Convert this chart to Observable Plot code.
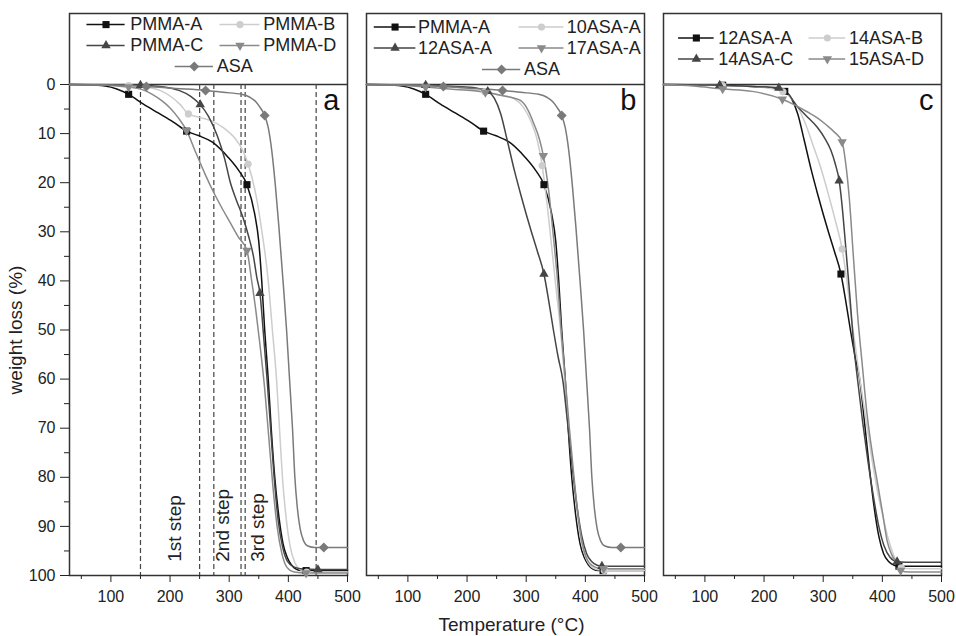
<!DOCTYPE html>
<html><head><meta charset="utf-8">
<script src="https://cdn.jsdelivr.net/npm/d3@7"></script>
<script src="https://cdn.jsdelivr.net/npm/@observablehq/plot@0.6"></script>
<style>html,body{margin:0;padding:0;background:#fff;}</style>
</head><body><div id="chart"></div>
<script>
// ---------- DATA (temperature °C, weight loss %) ----------
const panels = ["a", "b", "c"];
const legendA = ["PMMA-A", "PMMA-B", "PMMA-C", "PMMA-D", "ASA"];
const legendB = ["PMMA-A", "10ASA-A", "12ASA-A", "17ASA-A", "ASA"];
const legendC = ["12ASA-A", "14ASA-B", "14ASA-C", "15ASA-D"];

const PMMA_A = [[30,0],[60,0.05],[90,0.3],[110,0.9],[130,2],[155,4],[180,5.8],[205,7.6],[228,9.5],[248,10.4],[271,11.7],[298,14.8],[316,17.5],[330,20.4],[343,26.3],[350,32],[355,40],[360,50],[366,60],[371,70],[377,80],[384,88],[391,93.5],[398,96.3],[405,97.8],[413,98.7],[422,99],[430,99],[500,99]];
const PMMA_A_MARKS = [130, 228, 330, 430];
const PMMA_B = [[30,0],[90,0.05],[130,0.2],[163,0.6],[185,1.3],[203,2.6],[218,4.2],[231,6],[250,6.7],[270,7.4],[290,8.8],[310,11],[322,13.2],[332,16.2],[346,23],[355,29.7],[366,40],[373,50],[380,60],[385,70],[390,80],[396,88],[403,94],[411,97.4],[420,98.8],[431,99.3],[500,99.3]];
const PMMA_B_MARKS = [130, 231, 332, 431];
const PMMA_C = [[30,0],[100,0.05],[150,0.15],[190,0.5],[215,1.2],[235,2.4],[251,4.1],[265,6.5],[280,10.5],[292,15],[302,20],[312,23.5],[323,27],[333,31],[341,35],[347,39.5],[352,42.5],[358,51],[364,60],[370,70],[376,80],[383,89],[390,94],[398,97],[410,98.3],[425,98.7],[450,98.8],[500,98.8]];
const PMMA_C_MARKS = [150, 251, 352, 450];
const PMMA_D = [[30,0],[80,0.1],[110,0.3],[130,0.5],[152,1],[170,2],[186,3.3],[200,4.8],[214,6.8],[228,9.4],[244,14],[259,18.2],[273,21.8],[287,25],[301,28],[315,31],[330,33.8],[338,40],[345,46],[352,53],[360,62],[367,72],[374,82],[381,90],[389,95.5],[398,98.4],[410,99.3],[430,99.5],[500,99.5]];
const PMMA_D_MARKS = [130, 228, 330, 430];
const ASA = [[30,0],[100,0.1],[160,0.4],[210,0.8],[260,1.2],[290,1.6],[321,2],[335,2.6],[345,3.5],[353,4.8],[360,6.3],[366,8.8],[372,13.5],[378,20.5],[384,29],[391,40],[397,50],[402,60],[407,70],[411,80],[415,86],[420,90.5],[426,93],[433,94],[445,94.3],[460,94.3],[500,94.3]];
const ASA_MARKS = [160, 260, 360, 460];
const ASA10_A = [[30,0],[100,0.1],[130,0.2],[180,0.6],[230,1.5],[260,2.2],[280,2.9],[295,4.6],[308,7.5],[318,11],[327,16.5],[335,24],[343,33],[350,41],[358,50],[365,60],[372,70],[379,79],[386,87],[393,93],[401,96.5],[410,98.2],[420,98.8],[432,99],[500,99]];
const ASA10_A_MARKS = [130, 230, 327, 432];
const ASA12_A = [[30,0],[100,0.1],[130,0.15],[180,0.4],[215,0.7],[235,1.4],[246,2.8],[257,6],[268,11.4],[280,17.5],[291,22.5],[308,29.7],[319,34],[330,38.6],[338,44],[346,50],[354,55.5],[362,60.3],[370,69],[378,78],[386,86],[394,92],[402,95.5],[411,97.2],[420,97.9],[428,98.1],[500,98.1]];
const ASA12_A_MARKS = [130, 235, 330, 428];
const ASA17_A = [[30,0],[80,0.1],[130,0.5],[180,1],[231,1.6],[260,2.3],[280,2.8],[291,3.3],[303,5.2],[313,8],[322,11],[329,14.5],[338,21.6],[346,31],[353,40],[359,50],[366,60],[373,70],[380,79],[387,87],[394,93],[402,96.5],[412,98],[422,98.5],[431,98.6],[500,98.6]];
const ASA17_A_MARKS = [130, 231, 329, 431];
const ASA14_B = [[30,0],[100,0.1],[130,0.2],[180,0.4],[232,1.5],[246,2.8],[256,4.4],[270,8],[284,12.8],[296,17],[307,21.6],[320,27.5],[332,33.5],[340,40],[347,47],[354,53],[362,60],[372,68],[382,76],[392,83],[402,88.5],[410,92.5],[418,95.5],[426,97.6],[432,98.4],[445,98.6],[500,98.6]];
const ASA14_B_MARKS = [130, 232, 332, 432];
const ASA14_C = [[30,0],[100,0.1],[125,0.15],[180,0.4],[225,0.7],[240,1.8],[255,4.3],[270,6.2],[290,8.7],[303,11],[313,13.4],[320,16],[327,19.6],[333,26],[338,33],[345,43],[352,53.5],[359,61],[367,69],[376,77],[385,84],[394,90],[403,94],[413,96.3],[425,97.2],[440,97.3],[500,97.3]];
const ASA14_C_MARKS = [125, 225, 327, 425];
const ASA15_D = [[30,0],[80,0.3],[130,0.9],[180,1.4],[231,3],[254,4.3],[272,5.5],[290,6.8],[305,8.2],[318,9.6],[332,11.7],[338,16],[344,23],[351,35],[358,46.7],[366,57],[374,67],[383,75],[391,80.6],[400,87],[408,92.9],[416,95.8],[425,97.6],[431,99],[445,99.3],[500,99.3]];
const ASA15_D_MARKS = [130, 231, 332, 431];

const stepLines = [150, 250, 274, 320, 327, 447];
const stepLabels = ["1st step", "2nd step", "3rd step"];
const stepLabelT = [208, 290, 349];

const xMajor = [100, 200, 300, 400, 500];
const xMinor = [50, 150, 250, 350, 450];
const yMajor = [0, 10, 20, 30, 40, 50, 60, 70, 80, 90, 100];
const yMinor = [5, 15, 25, 35, 45, 55, 65, 75, 85, 95];

// ---------- lookup tables ----------
const curves = {"PMMA-A": PMMA_A, "PMMA-B": PMMA_B, "PMMA-C": PMMA_C, "PMMA-D": PMMA_D, "ASA": ASA,
  "10ASA-A": ASA10_A, "12ASA-A": ASA12_A, "17ASA-A": ASA17_A, "14ASA-B": ASA14_B, "14ASA-C": ASA14_C, "15ASA-D": ASA15_D};
const markTemps = {"PMMA-A": PMMA_A_MARKS, "PMMA-B": PMMA_B_MARKS, "PMMA-C": PMMA_C_MARKS, "PMMA-D": PMMA_D_MARKS, "ASA": ASA_MARKS,
  "10ASA-A": ASA10_A_MARKS, "12ASA-A": ASA12_A_MARKS, "17ASA-A": ASA17_A_MARKS, "14ASA-B": ASA14_B_MARKS, "14ASA-C": ASA14_C_MARKS, "15ASA-D": ASA15_D_MARKS};
const legends = {a: legendA, b: legendB, c: legendC};

// ---------- styles / layout ----------
const slotStyle = [
  {color: "#111111", symbol: "square", rotate: 0, r: 4},
  {color: "#cdcdcd", symbol: "circle", rotate: 0, r: 3.6},
  {color: "#454545", symbol: "triangle", rotate: 0, r: 3.5},
  {color: "#8a8a8a", symbol: "triangle", rotate: 180, r: 3.5},
  {color: "#7a7a7a", symbol: "square", rotate: 45, r: 4}
];
const legendLayout = {
  a: {rows: [-12.2, -7.94, -3.67], cols: [[59.5, 124, 132.6], [284.5, 352, 357.7]], center: [208.6, 273.3, 278.9]},
  b: {rows: [-11.7, -7.43, -3.05], cols: [[43.1, 113.5, 117], [287.9, 363.8, 368.4]], center: [226, 290.7, 296.3]},
  c: {rows: [-9.47, -5.19], cols: [[55.5, 115.6, 122.4], [276, 338, 343.5]]}
};

const lineRows = [], markRows = [], legendRows = [];
for (const p of panels) {
  legends[p].forEach((name, i) => {
    const st = slotStyle[i];
    const pts = curves[name];
    for (const [T, w] of pts) lineRows.push({panel: p, key: p + name, T, w, color: st.color});
    for (const mt of markTemps[name]) {
      const pt = pts.find(d => d[0] === mt);
      if (pt) markRows.push({panel: p, slot: i, T: pt[0], w: pt[1], color: st.color});
    }
    const L = legendLayout[p];
    let x1, x2, xt, y;
    if (i < 4) { [x1, x2, xt] = L.cols[i % 2]; y = L.rows[Math.floor(i / 2)]; }
    else { [x1, x2, xt] = L.center; y = L.rows[2]; }
    legendRows.push({panel: p, slot: i, name, x1, x2, xm: (x1 + x2) / 2, xt, y, color: st.color});
  });
}

const marks = [
  Plot.frame({stroke: "#333", strokeWidth: 1.5}),
  Plot.ruleY([0], {stroke: "#333", strokeWidth: 1.5}),
  Plot.ruleX(stepLines, {x: d => d, y1: 0, y2: 100, fx: () => "a", stroke: "#444", strokeWidth: 1.2, strokeDasharray: "5,3"}),
  Plot.text(stepLabels, {x: (d, i) => stepLabelT[i], y: 97.2, text: d => d, fx: () => "a", rotate: -90, textAnchor: "start", fontSize: 19, fill: "#222"}),
  Plot.line(lineRows, {x: "T", y: "w", z: "key", fx: "panel", stroke: "color", strokeWidth: 1.5, curve: "monotone-x"}),
];
slotStyle.forEach((st, s) => {
  marks.push(Plot.dot(markRows.filter(d => d.slot === s), {x: "T", y: "w", fx: "panel", symbol: st.symbol, rotate: st.rotate, r: st.r, fill: st.color, stroke: "none"}));
});
marks.push(Plot.ruleY(legendRows, {y: "y", x1: "x1", x2: "x2", fx: "panel", stroke: "color", strokeWidth: 1.5}));
slotStyle.forEach((st, s) => {
  marks.push(Plot.dot(legendRows.filter(d => d.slot === s), {x: "xm", y: "y", fx: "panel", symbol: st.symbol, rotate: st.rotate, r: st.r, fill: st.color, stroke: "none"}));
});
marks.push(
  Plot.text(legendRows, {x: "xt", y: "y", text: "name", fx: "panel", textAnchor: "start", fontSize: 18, fill: "#222"}),
  Plot.text(panels, {fx: d => d, text: d => d, frameAnchor: "top-right", dx: -8, dy: 96, lineAnchor: "bottom", fontSize: 29, fill: "#111"}),
  Plot.axisY({ticks: yMajor, tickSize: 9, tickPadding: 5, label: null}),
  Plot.axisY({ticks: yMinor, tickSize: 5, tickFormat: () => "", label: null}),
  Plot.axisX({ticks: xMajor, tickSize: 7, tickPadding: 8, label: null}),
  Plot.axisX({ticks: xMinor, tickSize: 4, tickFormat: () => "", label: null}),
  Plot.text(["Temperature (°C)"], {fx: () => "b", frameAnchor: "bottom", dy: 49, dx: 6, text: d => d, fontSize: 19, lineAnchor: "middle", textAnchor: "middle", fill: "#222"}),
  Plot.text(["weight loss (%)"], {fx: () => "a", frameAnchor: "left", y: 50, dx: -54, text: d => d, rotate: -90, fontSize: 19, textAnchor: "middle", lineAnchor: "middle", fill: "#222"})
);

const chart = Plot.plot({
  width: 956,
  height: 636,
  marginLeft: 68,
  marginRight: 15,
  marginTop: 13,
  marginBottom: 61,
  x: {domain: [30, 500]},
  y: {domain: [-14.46, 100], reverse: true},
  fx: {domain: panels, paddingInner: 0.0655, paddingOuter: 0, axis: null, label: null},
  color: {type: "identity"},
  style: {fontFamily: "'Liberation Sans', Arial, sans-serif", fontSize: "16px", color: "#222", background: "#fff"},
  marks
});
document.getElementById("chart").appendChild(chart);
</script>
</body></html>
